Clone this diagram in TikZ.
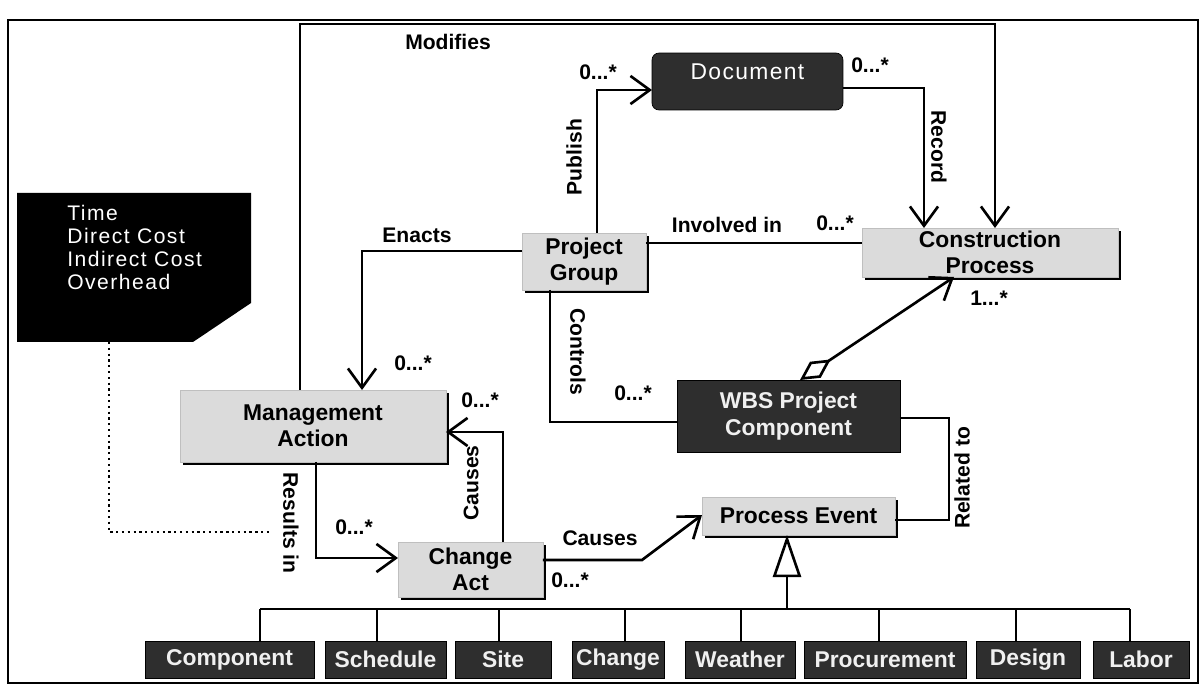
\documentclass[tikz,border=0pt]{standalone}
\usepackage{fontspec}
\setmainfont{Liberation Sans}
\newfontfamily\docfont[LetterSpace=6]{Liberation Sans}
\newfontfamily\notefont[LetterSpace=7]{Liberation Sans}
\usetikzlibrary{arrows.meta,shadows}

\tikzset{
  light/.style={fill=gray!28, draw=gray!50, inner sep=1pt, outer sep=0pt, align=center,
    font=\fontsize{13}{15}\selectfont\bfseries,
    drop shadow={shadow xshift=1.6pt, shadow yshift=-1.6pt, fill=black, opacity=1}},
  dark/.style={fill=black!82, draw=black, text=white!88!gray, inner sep=1pt, outer sep=0pt,
    align=center, font=\fontsize{13}{15}\selectfont\bfseries},
  kind/.style={dark, minimum height=0.74cm},
  lbl/.style={font=\fontsize{12}{14}\selectfont\bfseries, inner sep=0pt},
  link/.style={line width=1.5pt},
  assoc/.style={link, -{Straight Barb[length=11pt,width=16pt,line width=1.5pt]}},
  gen/.style={link, -{Triangle[open,fill=white,length=24pt,width=16pt,line width=1.5pt]}},
}

\begin{document}
\begin{tikzpicture}[x=0.02cm,y=-0.02cm]
\useasboundingbox (0,0) rectangle (1204,689);

% frame
\draw[line width=1.5pt] (8,20) rectangle (1198,683);

% note
\fill[black] (17,193) -- (251,193) -- (251,303) -- (193,342) -- (17,342) -- cycle;
\node[anchor=north west, inner sep=0pt, text=white, align=left,
      font=\notefont\fontsize{12}{13}\selectfont] (note) at (67,205)
      {Time\\Direct Cost\\Indirect Cost\\Overhead};
\coordinate (notebot) at (109,342);
\coordinate (noteend) at (270,532);

% classes
\node[dark, rounded corners=4pt, minimum width=3.82cm, minimum height=1.14cm,
      font=\docfont\fontsize{13}{15}\selectfont, text=white] (doc) at (747.5,81.5)
      {\raisebox{11pt}{Document}};
\node[light, minimum width=2.48cm, minimum height=1.14cm] (pg) at (584,261.5) {Project\\Group};
\node[light, minimum width=5.12cm, minimum height=0.98cm] (cp) at (990,252.5) {Construction\\Process};
\node[light, minimum width=5.32cm, minimum height=1.44cm] (ma) at (313,426) {Management\\Action};
\node[dark, minimum width=4.46cm, minimum height=1.44cm] (wbs) at (788.5,416) {WBS Project\\Component};
\node[light, minimum width=3.86cm, minimum height=0.76cm] (pe) at (798.5,516) {Process Event};
\node[light, minimum width=2.90cm, minimum height=1.10cm] (ca) at (470.5,569.5) {Change\\Act};

% kinds of process event
\node[kind, minimum width=3.38cm] (comp) at (229.5,659.5) {Component};
\node[kind, minimum width=2.42cm] (sched) at (385.5,659.5) {Schedule};
\node[kind, minimum width=1.92cm] (site) at (503,659.5) {Site};
\node[kind, minimum width=1.84cm] (chg) at (618,659.5) {Change};
\node[kind, minimum width=2.20cm] (weather) at (740,659.5) {Weather};
\node[kind, minimum width=3.24cm] (proc) at (885,659.5) {Procurement};
\node[kind, minimum width=2.08cm] (design) at (1028,659.5) {Design};
\node[kind, minimum width=1.92cm] (labor) at (1141,659.5) {Labor};

% bend points
\coordinate (modL) at (300,24);
\coordinate (modR) at (995,24);
\coordinate (pubC) at (597,90);
\coordinate (recC) at (924,88);
\coordinate (invC) at (700,243);
\coordinate (enC) at (362,251);
\coordinate (ctC) at (550,422);
\coordinate (aggA) at (800,0);
\coordinate (aggB) at (954,0);
\coordinate (relA) at (949,418);
\coordinate (relB) at (949,520);
\coordinate (resC) at (316,558);
\coordinate (cauC) at (503,432);
\coordinate (cau2A) at (642,560);
\coordinate (cau2B) at (0,515);
\coordinate (busL) at (260,609);
\coordinate (busR) at (1130,609);
\coordinate (genC) at (787,609);

% associations
\draw[assoc] (ma.north -| modL) -- (modL) -- (modR) -- (modR |- cp.north);
\draw[assoc] (pg.north -| pubC) -- (pubC) -- (pubC -| doc.west);
\draw[assoc] (doc.east |- recC) -- (recC) -- (recC |- cp.north);
\draw[link] (pg.east |- invC) -- (invC -| cp.west);
\draw[assoc] (pg.west |- enC) -- (enC) -- (enC |- ma.north);
\draw[link] (pg.south -| ctC) -- (ctC) -- (ctC -| wbs.west);
\draw[link, {Diamond[open,fill=white,length=21pt,width=11pt,line width=1.5pt]}-{Straight Barb[length=11pt,width=16pt,line width=1.5pt]}]
  (aggA |- wbs.north) -- (aggB |- cp.south);
\draw[link] (wbs.east |- relA) -- (relA) -- (relB) -- (relB -| pe.east);
\draw[assoc] (ma.south -| resC) -- (resC) -- (resC -| ca.west);
\draw[assoc] (ca.north -| cauC) -- (cauC) -- (cauC -| ma.east);
\draw[assoc] (ca.east |- cau2A) -- (cau2A) -- (cau2B -| pe.west);
\draw[dotted, line width=1.3pt] (notebot) -- (notebot |- noteend) -- (noteend);

% generalization
\draw[gen] (genC) -- (genC |- pe.south);
\draw[link] (busL) -- (busR);
\foreach \b/\x in {comp/260,sched/377,site/499,chg/625,weather/741,proc/879,design/1016,labor/1130}
  \draw[link] (\x,609) -- (\x,609 |- \b.north);

% labels
\node[lbl] (lmod) at (448,42) {Modifies};
\node[lbl, rotate=90] (lpub) at (574,157) {Publish};
\node[lbl, rotate=-90] (lrec) at (939,147) {Record};
\node[lbl] (linv) at (727,225) {Involved in};
\node[lbl] (lena) at (417,235) {Enacts};
\node[lbl, rotate=-90] (lctl) at (578,352) {Controls};
\node[lbl, rotate=90] (lrel) at (962,478) {Related to};
\node[lbl, rotate=90] (lcau) at (471,483) {Causes};
\node[lbl, rotate=-90] (lres) at (291,523) {Results in};
\node[lbl] (lcau2) at (600,538) {Causes};

% multiplicities
\node[lbl] (mpub) at (598,72) {0...*};
\node[lbl] (mrec) at (870,65) {0...*};
\node[lbl] (minv) at (835,223) {0...*};
\node[lbl] (mena) at (413,363) {0...*};
\node[lbl] (mctl) at (633,393) {0...*};
\node[lbl] (mcp) at (989,298) {1...*};
\node[lbl] (mcau) at (480,400) {0...*};
\node[lbl] (mres) at (354,527) {0...*};
\node[lbl] (mca) at (570,580) {0...*};

\end{tikzpicture}
\end{document}
